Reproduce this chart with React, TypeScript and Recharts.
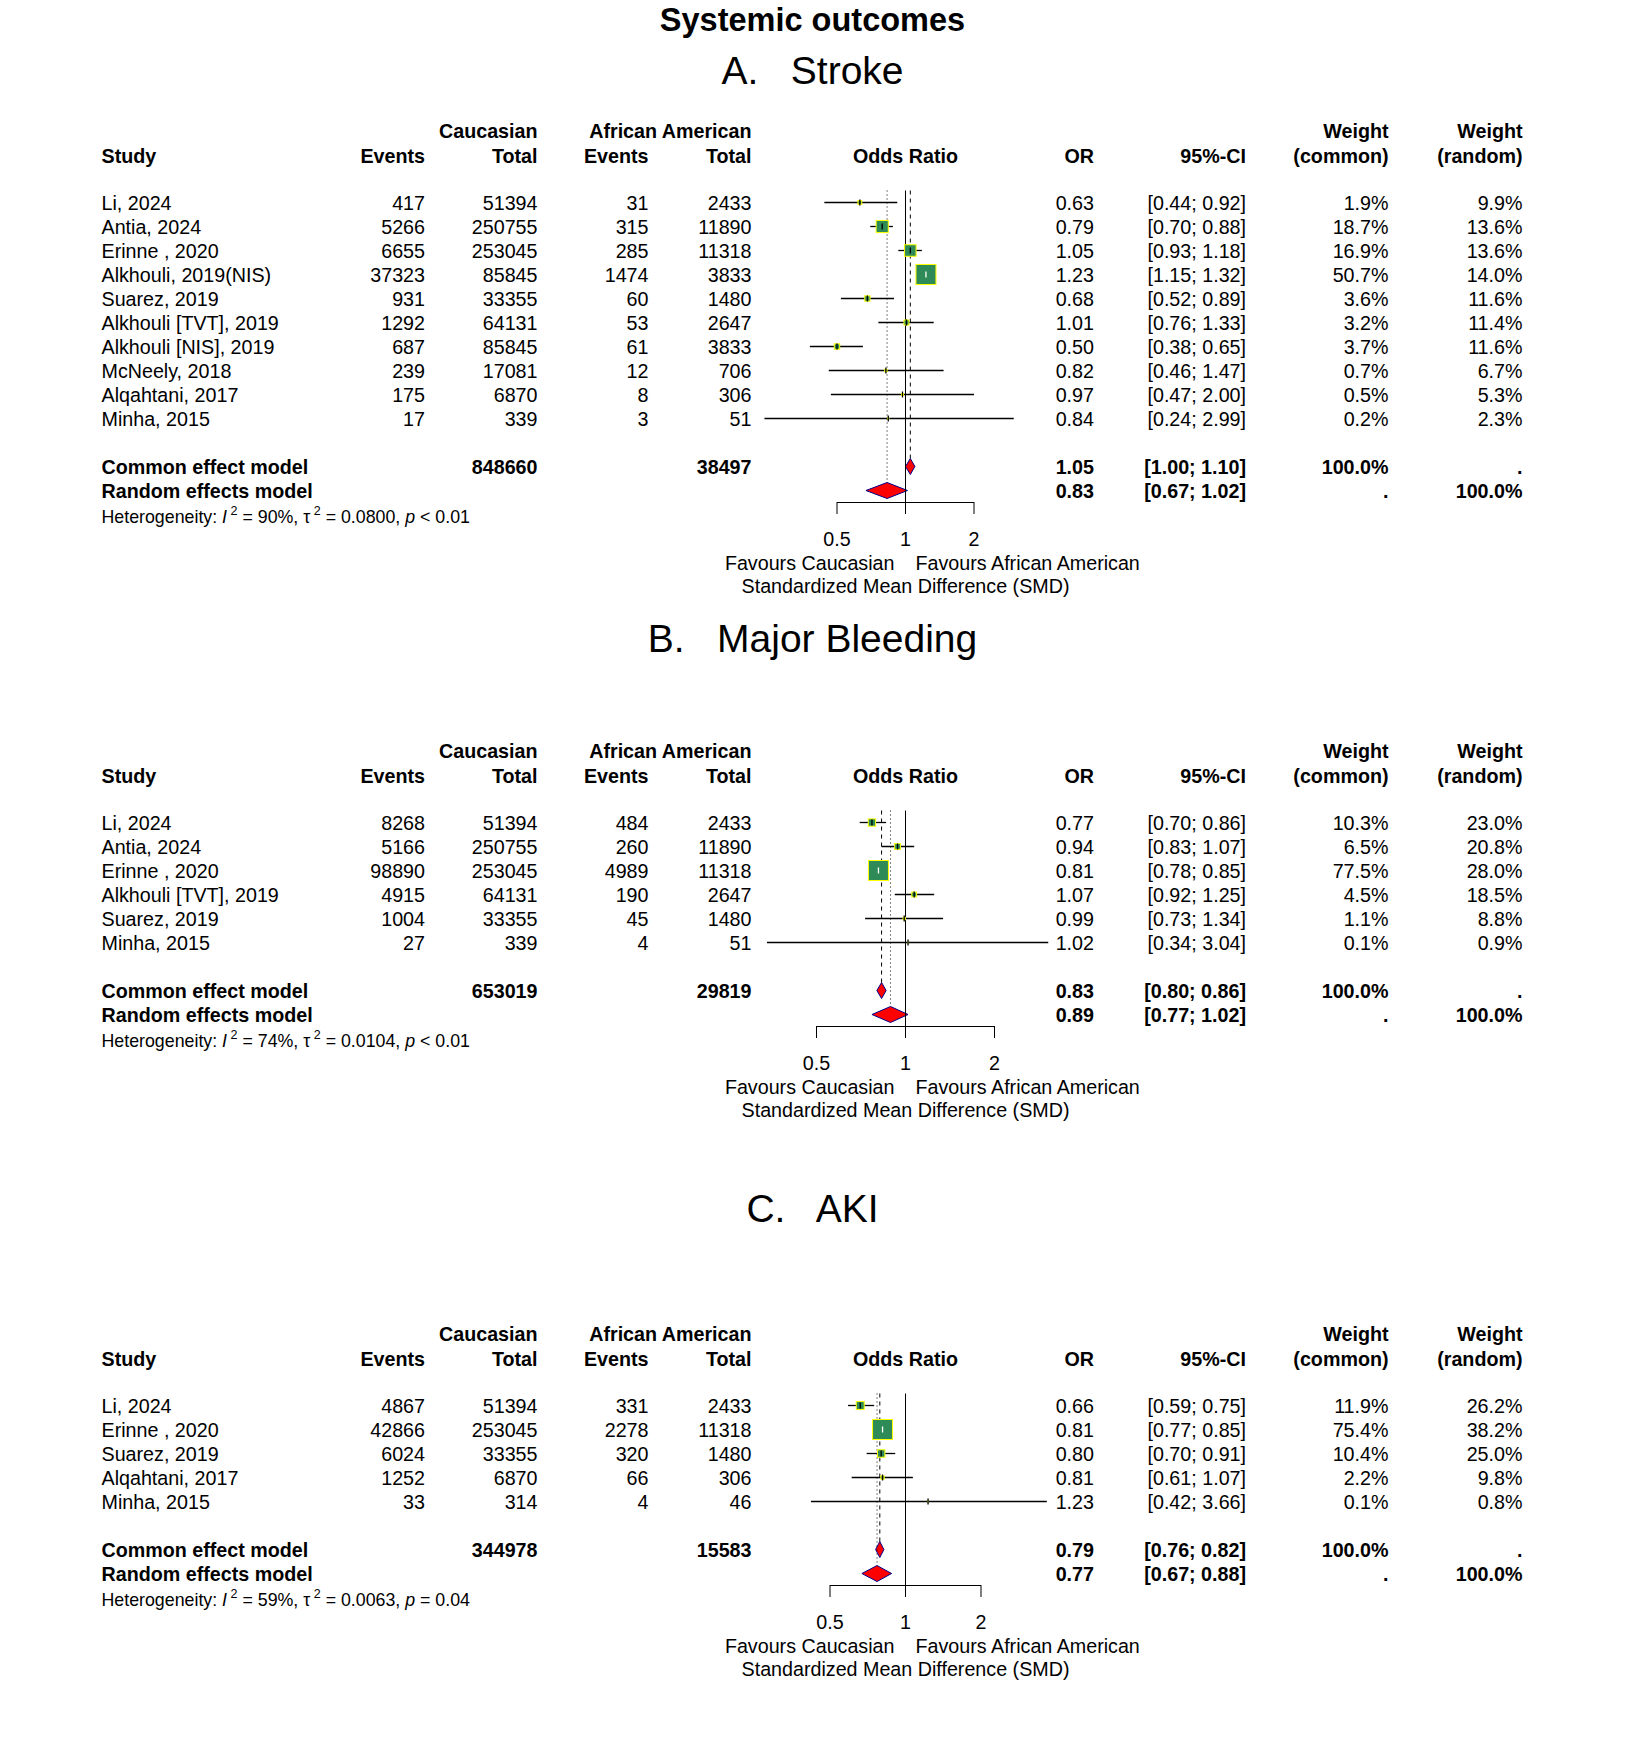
import React from 'react';
import { ComposedChart, Scatter, ErrorBar, Area, XAxis, YAxis, ZAxis, ReferenceLine } from 'recharts';

const FONT = '"Liberation Sans", Arial, Helvetica, sans-serif';
const FS = 19.7;
const ROW = 24;
const PLOT_LEFT = 700;
const PLOT_RIGHT = 1120;
const NULL_X = 905.5;
const AXIS_H = 60;
const DH = 8 / ROW;
const HALF = 0.5 / ROW; // half-pixel nudge so 1px lines land on whole pixels

// column anchors (right edges, study column is left edge)
const COL = { study: 101.5, ce: 425, ct: 537.5, ae: 648.5, at: 751.5, or: 1094, ci: 1246, wc: 1388.5, wr: 1522.5 };

// ---- A. Stroke ----
const strokeStudies = ['Li, 2024', 'Antia, 2024', 'Erinne , 2020', 'Alkhouli, 2019(NIS)', 'Suarez, 2019', 'Alkhouli [TVT], 2019', 'Alkhouli [NIS], 2019', 'McNeely, 2018', 'Alqahtani, 2017', 'Minha, 2015'];
const strokeCaucEvents = [417, 5266, 6655, 37323, 931, 1292, 687, 239, 175, 17];
const strokeCaucTotal = [51394, 250755, 253045, 85845, 33355, 64131, 85845, 17081, 6870, 339];
const strokeAaEvents = [31, 315, 285, 1474, 60, 53, 61, 12, 8, 3];
const strokeAaTotal = [2433, 11890, 11318, 3833, 1480, 2647, 3833, 706, 306, 51];
const strokeOr = [0.63, 0.79, 1.05, 1.23, 0.68, 1.01, 0.5, 0.82, 0.97, 0.84];
const strokeLower = [0.44, 0.7, 0.93, 1.15, 0.52, 0.76, 0.38, 0.46, 0.47, 0.24];
const strokeUpper = [0.92, 0.88, 1.18, 1.32, 0.89, 1.33, 0.65, 1.47, 2.0, 2.99];
const strokeWCommon = [1.9, 18.7, 16.9, 50.7, 3.6, 3.2, 3.7, 0.7, 0.5, 0.2];
const strokeWRandom = [9.9, 13.6, 13.6, 14.0, 11.6, 11.4, 11.6, 6.7, 5.3, 2.3];
const strokeCommon = [1.05, 1.0, 1.1];
const strokeRandom = [0.83, 0.67, 1.02];
const strokeTotals = [848660, 38497];
const strokeHet = ['90%', '0.0800', '< 0.01'];

// ---- B. Major Bleeding ----
const bleedStudies = ['Li, 2024', 'Antia, 2024', 'Erinne , 2020', 'Alkhouli [TVT], 2019', 'Suarez, 2019', 'Minha, 2015'];
const bleedCaucEvents = [8268, 5166, 98890, 4915, 1004, 27];
const bleedCaucTotal = [51394, 250755, 253045, 64131, 33355, 339];
const bleedAaEvents = [484, 260, 4989, 190, 45, 4];
const bleedAaTotal = [2433, 11890, 11318, 2647, 1480, 51];
const bleedOr = [0.77, 0.94, 0.81, 1.07, 0.99, 1.02];
const bleedLower = [0.7, 0.83, 0.78, 0.92, 0.73, 0.34];
const bleedUpper = [0.86, 1.07, 0.85, 1.25, 1.34, 3.04];
const bleedWCommon = [10.3, 6.5, 77.5, 4.5, 1.1, 0.1];
const bleedWRandom = [23.0, 20.8, 28.0, 18.5, 8.8, 0.9];
const bleedCommon = [0.83, 0.8, 0.86];
const bleedRandom = [0.89, 0.77, 1.02];
const bleedTotals = [653019, 29819];
const bleedHet = ['74%', '0.0104', '< 0.01'];

// ---- C. AKI ----
const akiStudies = ['Li, 2024', 'Erinne , 2020', 'Suarez, 2019', 'Alqahtani, 2017', 'Minha, 2015'];
const akiCaucEvents = [4867, 42866, 6024, 1252, 33];
const akiCaucTotal = [51394, 253045, 33355, 6870, 314];
const akiAaEvents = [331, 2278, 320, 66, 4];
const akiAaTotal = [2433, 11318, 1480, 306, 46];
const akiOr = [0.66, 0.81, 0.8, 0.81, 1.23];
const akiLower = [0.59, 0.77, 0.7, 0.61, 0.42];
const akiUpper = [0.75, 0.85, 0.91, 1.07, 3.66];
const akiWCommon = [11.9, 75.4, 10.4, 2.2, 0.1];
const akiWRandom = [26.2, 38.2, 25.0, 9.8, 0.8];
const akiCommon = [0.79, 0.76, 0.82];
const akiRandom = [0.77, 0.67, 0.88];
const akiTotals = [344978, 15583];
const akiHet = ['59%', '0.0063', '= 0.04'];

const panels = [
  { title: 'A.   Stroke', studies: strokeStudies, ce: strokeCaucEvents, ct: strokeCaucTotal, ae: strokeAaEvents, at: strokeAaTotal, or: strokeOr, lo: strokeLower, hi: strokeUpper, wc: strokeWCommon, wr: strokeWRandom, common: strokeCommon, random: strokeRandom, totals: strokeTotals, het: strokeHet },
  { title: 'B.   Major Bleeding', studies: bleedStudies, ce: bleedCaucEvents, ct: bleedCaucTotal, ae: bleedAaEvents, at: bleedAaTotal, or: bleedOr, lo: bleedLower, hi: bleedUpper, wc: bleedWCommon, wr: bleedWRandom, common: bleedCommon, random: bleedRandom, totals: bleedTotals, het: bleedHet },
  { title: 'C.   AKI', studies: akiStudies, ce: akiCaucEvents, ct: akiCaucTotal, ae: akiAaEvents, at: akiAaTotal, or: akiOr, lo: akiLower, hi: akiUpper, wc: akiWCommon, wr: akiWRandom, common: akiCommon, random: akiRandom, totals: akiTotals, het: akiHet },
];

// page layout per panel: title baseline, top of first study row, pixel x of the 0.5 and 2 ticks
const layouts = [
  { titleY: 83.5, rowTop: 190, x05: 837, x2: 974 },
  { titleY: 651.7, rowTop: 810, x05: 816.5, x2: 994.5 },
  { titleY: 1222, rowTop: 1393, x05: 830, x2: 981 },
];

const T = ({ x, y, anchor = 'start', bold = false, size = FS, children }: any) => (
  <text x={x} y={y} textAnchor={anchor} fontWeight={bold ? 'bold' : 'normal'} fontSize={size} fontFamily={FONT} fill="#000" style={{ whiteSpace: 'pre' }}>
    {children}
  </text>
);

const ci = (a: number, b: number) => `[${a.toFixed(2)}; ${b.toFixed(2)}]`;

function PanelText({ p, L }: any) {
  const n = p.studies.length;
  const rowY = L.rowTop + ROW / 2;
  const by = (r: number) => rowY + r * ROW + 8;
  const h1 = rowY - 64;
  const h2 = rowY - 39;
  const axisY = rowY + (n + 2.5) * ROW;
  const hetY = rowY + (n + 2) * ROW + 33;
  const hs = 17.8;
  return (
    <g>
      <T x={812.5} y={L.titleY} anchor="middle" size={39}>{p.title}</T>
      <T x={COL.ct} y={h1} anchor="end" bold>Caucasian</T>
      <T x={COL.at} y={h1} anchor="end" bold>African American</T>
      <T x={COL.wc} y={h1} anchor="end" bold>Weight</T>
      <T x={COL.wr} y={h1} anchor="end" bold>Weight</T>
      <T x={COL.study} y={h2} bold>Study</T>
      <T x={COL.ce} y={h2} anchor="end" bold>Events</T>
      <T x={COL.ct} y={h2} anchor="end" bold>Total</T>
      <T x={COL.ae} y={h2} anchor="end" bold>Events</T>
      <T x={COL.at} y={h2} anchor="end" bold>Total</T>
      <T x={NULL_X} y={h2} anchor="middle" bold>Odds Ratio</T>
      <T x={COL.or} y={h2} anchor="end" bold>OR</T>
      <T x={COL.ci} y={h2} anchor="end" bold>95%-CI</T>
      <T x={COL.wc} y={h2} anchor="end" bold>(common)</T>
      <T x={COL.wr} y={h2} anchor="end" bold>(random)</T>
      {p.studies.map((s: string, i: number) => (
        <g key={s + i}>
          <T x={COL.study} y={by(i)}>{s}</T>
          <T x={COL.ce} y={by(i)} anchor="end">{String(p.ce[i])}</T>
          <T x={COL.ct} y={by(i)} anchor="end">{String(p.ct[i])}</T>
          <T x={COL.ae} y={by(i)} anchor="end">{String(p.ae[i])}</T>
          <T x={COL.at} y={by(i)} anchor="end">{String(p.at[i])}</T>
          <T x={COL.or} y={by(i)} anchor="end">{p.or[i].toFixed(2)}</T>
          <T x={COL.ci} y={by(i)} anchor="end">{ci(p.lo[i], p.hi[i])}</T>
          <T x={COL.wc} y={by(i)} anchor="end">{p.wc[i].toFixed(1) + '%'}</T>
          <T x={COL.wr} y={by(i)} anchor="end">{p.wr[i].toFixed(1) + '%'}</T>
        </g>
      ))}
      <T x={COL.study} y={by(n + 1)} bold>Common effect model</T>
      <T x={COL.ct} y={by(n + 1)} anchor="end" bold>{String(p.totals[0])}</T>
      <T x={COL.at} y={by(n + 1)} anchor="end" bold>{String(p.totals[1])}</T>
      <T x={COL.or} y={by(n + 1)} anchor="end" bold>{p.common[0].toFixed(2)}</T>
      <T x={COL.ci} y={by(n + 1)} anchor="end" bold>{ci(p.common[1], p.common[2])}</T>
      <T x={COL.wc} y={by(n + 1)} anchor="end" bold>100.0%</T>
      <T x={COL.wr} y={by(n + 1)} anchor="end" bold>.</T>
      <T x={COL.study} y={by(n + 2)} bold>Random effects model</T>
      <T x={COL.or} y={by(n + 2)} anchor="end" bold>{p.random[0].toFixed(2)}</T>
      <T x={COL.ci} y={by(n + 2)} anchor="end" bold>{ci(p.random[1], p.random[2])}</T>
      <T x={COL.wc} y={by(n + 2)} anchor="end" bold>.</T>
      <T x={COL.wr} y={by(n + 2)} anchor="end" bold>100.0%</T>
      <text x={COL.study} y={hetY} fontSize={hs} fontFamily={FONT} fill="#000" style={{ whiteSpace: 'pre' }}>
        {'Heterogeneity: '}
        <tspan fontStyle="italic">I</tspan>
        <tspan dy={-8} fontSize={12.5}>{' 2'}</tspan>
        <tspan dy={8}>{` = ${p.het[0]}, \u03c4`}</tspan>
        <tspan dy={-8} fontSize={12.5}>{' 2'}</tspan>
        <tspan dy={8}>{` = ${p.het[1]}, `}</tspan>
        <tspan fontStyle="italic">p</tspan>
        <tspan>{` ${p.het[2]}`}</tspan>
      </text>
      <T x={NULL_X - 11} y={axisY + 68.2} anchor="end">Favours Caucasian</T>
      <T x={NULL_X + 10} y={axisY + 68.2}>Favours African American</T>
      <T x={NULL_X} y={axisY + 90.8} anchor="middle">Standardized Mean Difference (SMD)</T>
    </g>
  );
}

const Square = (props: any) => {
  const { cx, cy } = props;
  const s = Math.sqrt(props.size ?? 0);
  return <rect x={cx - s / 2} y={cy - s / 2} width={s} height={s} fill="#2E8B57" stroke="#FFFF00" strokeWidth={1} />;
};

const makeTick = (color: string) => (props: any) => (
  <line x1={props.cx} x2={props.cx} y1={props.cy - 3} y2={props.cy + 3} stroke={color} strokeWidth={1.3} />
);
const BlackTick = makeTick('#000');
const WhiteTick = makeTick('#FFF');

const diamond = (v: number[], row: number) => [
  { x: v[1], band: [row, row] },
  { x: v[0], band: [row - DH, row + DH] },
  { x: v[2], band: [row, row] },
];

function ForestChart({ p, L }: any) {
  const n = p.studies.length;
  const plotH = (n + 3) * ROW;
  const lnPerPx = Math.log(4) / (L.x2 - L.x05);
  const domain = [0.5 * Math.exp((PLOT_LEFT - L.x05) * lnPerPx), 2 * Math.exp((PLOT_RIGHT - L.x2) * lnPerPx)];
  const wMax = Math.max(...p.wc);
  const pts = p.studies.map((_: string, i: number) => {
    const side = 20 * Math.sqrt(p.wc[i] / wMax);
    const ciPx = Math.log(p.hi[i] / p.lo[i]) / lnPerPx;
    return { x: p.or[i], y: i, w: p.wc[i], err: [p.or[i] - p.lo[i], p.hi[i] - p.or[i]], inside: ciPx < side };
  });
  const outer = pts.filter((d: any) => !d.inside);
  const inner = pts.filter((d: any) => d.inside);
  const cRow = n + 1;
  const rRow = n + 2;
  const axisRow = n + 2.5;
  return (
    <div style={{ position: 'absolute', left: PLOT_LEFT, top: L.rowTop }}>
      <ComposedChart width={PLOT_RIGHT - PLOT_LEFT} height={plotH + AXIS_H} margin={{ top: 0, right: 0, bottom: 0, left: 0 }}>
        <XAxis
          type="number"
          dataKey="x"
          scale="log"
          domain={domain}
          allowDataOverflow
          ticks={[0.5, 1, 2]}
          interval={0}
          tickFormatter={(v: number) => String(v)}
          axisLine={false}
          tickLine={{ stroke: '#000' }}
          tickSize={12}
          tickMargin={18}
          height={AXIS_H}
          tick={{ fill: '#000', fontSize: FS, fontFamily: FONT }}
        />
        <YAxis type="number" dataKey="y" domain={[-0.5 - HALF, axisRow - HALF]} reversed hide width={0} allowDataOverflow />
        <ZAxis type="number" dataKey="w" domain={[0, wMax]} range={[0, 400]} />
        <ReferenceLine segment={[{ x: 1, y: -0.5 }, { x: 1, y: axisRow }]} stroke="#000" strokeWidth={1} ifOverflow="visible" />
        <ReferenceLine segment={[{ x: p.common[0], y: -0.5 }, { x: p.common[0], y: cRow - DH }]} stroke="#000" strokeDasharray="4 4" ifOverflow="visible" />
        <ReferenceLine segment={[{ x: p.random[0], y: -0.5 }, { x: p.random[0], y: rRow - DH }]} stroke="#000" strokeDasharray="1 3" ifOverflow="visible" />
        <ReferenceLine segment={[{ x: 0.5, y: axisRow }, { x: 2, y: axisRow }]} stroke="#000" strokeWidth={1} ifOverflow="visible" />
        <Scatter data={pts} shape={Square} isAnimationActive={false} />
        <Scatter data={outer} shape={BlackTick} isAnimationActive={false}>
          <ErrorBar dataKey="err" direction="x" width={0} stroke="#000" strokeWidth={1.3} isAnimationActive={false} />
        </Scatter>
        <Scatter data={inner} shape={WhiteTick} isAnimationActive={false}>
          <ErrorBar dataKey="err" direction="x" width={0} stroke="#FFF" strokeWidth={1.3} isAnimationActive={false} />
        </Scatter>
        <Area data={diamond(p.common, cRow)} dataKey="band" type="linear" fill="#FF0000" fillOpacity={1} stroke="#00008B" strokeWidth={1} dot={false} activeDot={false} isAnimationActive={false} />
        <Area data={diamond(p.random, rRow)} dataKey="band" type="linear" fill="#FF0000" fillOpacity={1} stroke="#00008B" strokeWidth={1} dot={false} activeDot={false} isAnimationActive={false} />
      </ComposedChart>
    </div>
  );
}

export default function App() {
  return (
    <div style={{ position: 'absolute', left: 0, top: 0, width: 1625, height: 1750, background: '#fff' }}>
      <svg width={1625} height={1750} style={{ position: 'absolute', left: 0, top: 0 }}>
        <T x={812.5} y={30.5} anchor="middle" bold size={32.5}>Systemic outcomes</T>
        {panels.map((p, i) => (
          <PanelText key={i} p={p} L={layouts[i]} />
        ))}
      </svg>
      {panels.map((p, i) => (
        <ForestChart key={i} p={p} L={layouts[i]} />
      ))}
    </div>
  );
}
